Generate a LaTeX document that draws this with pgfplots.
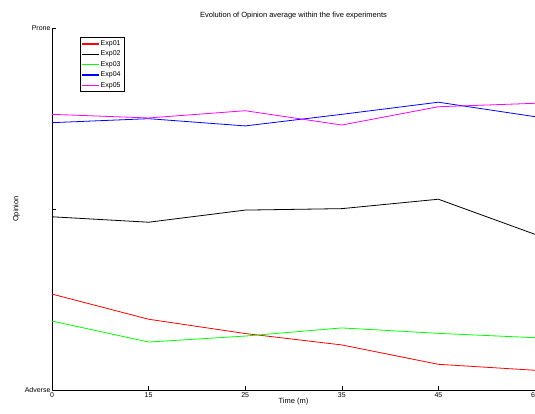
\documentclass[border=0pt]{standalone}
\usepackage{fontspec}
\setmainfont{Liberation Sans}
\usepackage{pgfplots}
\pgfplotsset{compat=1.18}
\definecolor{cred}{RGB}{255,0,0}
\definecolor{cgreen}{RGB}{0,255,0}
\definecolor{cblue}{RGB}{0,0,255}
\definecolor{cmag}{RGB}{255,0,255}
\begin{document}
\begin{tikzpicture}
\begin{axis}[
  name=ax,
  scale only axis,
  width=483pt, height=362pt,
  axis lines*=left,
  axis line style={line width=0.8pt},
  xmin=0, xmax=5, ymin=0, ymax=2,
  xtick={0,1,2,3,4,5},
  xticklabels={0,15,25,35,45,60},
  ytick={0,1,2},
  yticklabels={Adverse,,Prone},
  tick align=inside,
  major tick length=4pt,
  tick style={black, line width=0.6pt},
  ticklabel style={font=\fontsize{7}{8}\selectfont},
  xticklabel style={yshift=1pt},
  yticklabel style={xshift=2pt},
  /pgf/number format/assume math mode=true,
  title={Evolution of Opinion average within the five experiments},
  title style={font=\fontsize{7.5}{9}\selectfont, yshift=-1pt},
  xlabel={Time (m)},
  xlabel style={font=\fontsize{7.5}{9}\selectfont, yshift=6pt},
  ylabel={Opinion},
  ylabel style={font=\fontsize{7.5}{9}\selectfont, yshift=-2pt},
  legend style={at={(rel axis cs:0,1)}, anchor=north west, xshift=28pt, yshift=-9.5pt,
    font=\fontsize{7}{8}\selectfont,
    inner xsep=2pt, inner ysep=1.5pt, row sep=1pt, cells={anchor=west},
    nodes={inner sep=1.5pt}},
  legend image code/.code={\fill[#1, draw=none] (0pt,-0.7pt) rectangle (17pt,0.7pt);},
  every axis plot/.append style={line width=0.8pt},
  clip=false,
]
\addplot[cred] coordinates {(0,0.530) (1,0.391) (2,0.312) (3,0.249) (4,0.142) (5,0.109)};
\addlegendentry{Exp01\hspace{5pt}}
\addplot[black] coordinates {(0,0.957) (1,0.927) (2,0.994) (3,1.002) (4,1.054) (5,0.860)};
\addlegendentry{Exp02\hspace{5pt}}
\addplot[cgreen] coordinates {(0,0.381) (1,0.265) (2,0.298) (3,0.343) (4,0.313) (5,0.289)};
\addlegendentry{Exp03\hspace{5pt}}
\addplot[cblue] coordinates {(0,1.477) (1,1.499) (2,1.459) (3,1.523) (4,1.590) (5,1.510)};
\addlegendentry{Exp04\hspace{5pt}}
\addplot[cmag] coordinates {(0,1.523) (1,1.503) (2,1.543) (3,1.464) (4,1.565) (5,1.584)};
\addlegendentry{Exp05\hspace{5pt}}
\end{axis}
\pgfresetboundingbox
\path[use as bounding box] ([xshift=-52pt,yshift=-23pt]ax.south west) rectangle ([yshift=28pt]ax.north east);
\end{tikzpicture}
\end{document}
